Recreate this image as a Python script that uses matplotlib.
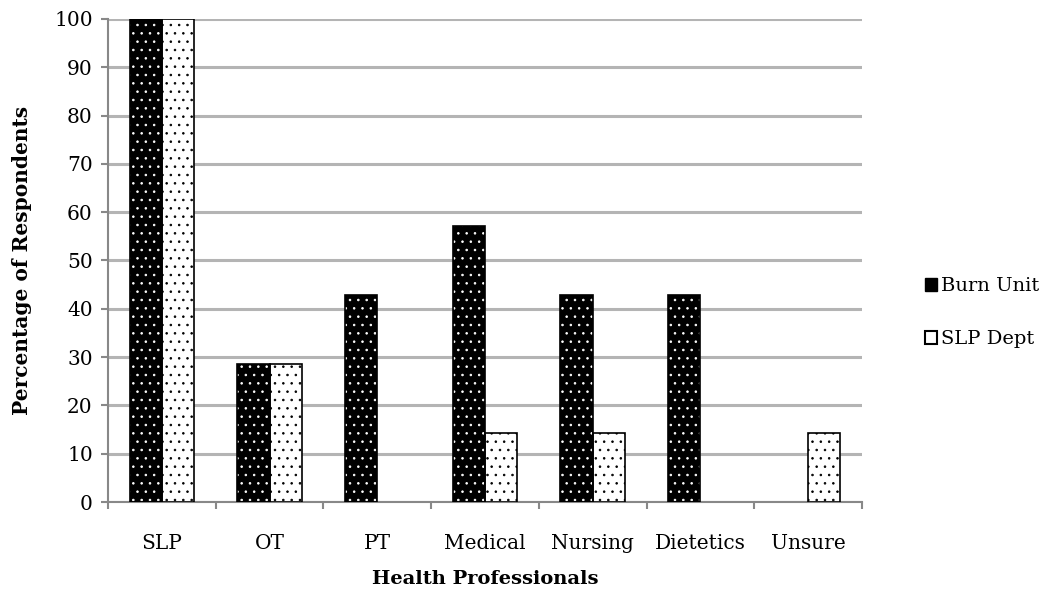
import numpy as np
import matplotlib.pyplot as plt
from matplotlib.patches import Patch

plt.rcParams['font.family'] = ['DejaVu Serif']
plt.rcParams['hatch.linewidth'] = 0.6

categories = ['SLP', 'OT', 'PT', 'Medical', 'Nursing', 'Dietetics', 'Unsure']
burn_unit = [100, 28.57, 42.86, 57.14, 42.86, 42.86, 0]
slp_dept = [100, 28.57, 0, 14.29, 14.29, 0, 14.29]

fig = plt.figure(figsize=(10.53, 5.9), dpi=100)
ax = fig.add_axes([0.1026, 0.149, 0.716, 0.819])

x = np.arange(len(categories))
w = 0.3


def edge_for(vals):
    # no outline for empty bars
    return ['black' if v > 0 else 'none' for v in vals]


# hatch layer (hatch colour comes from edgecolor), then outline on top
ax.bar(x - w / 2, burn_unit, w, color='black', edgecolor='white', hatch='..', linewidth=0, zorder=3)
ax.bar(x - w / 2, burn_unit, w, fill=False, edgecolor=edge_for(burn_unit), linewidth=1.2, zorder=4)
ax.bar(x + w / 2, slp_dept, w, color='white', edgecolor='black', hatch='..', linewidth=0, zorder=3)
ax.bar(x + w / 2, slp_dept, w, fill=False, edgecolor=edge_for(slp_dept), linewidth=1.2, zorder=4)

ax.set_xlim(-0.5, len(categories) - 0.5)
ax.set_ylim(0, 100)
ax.set_yticks(range(0, 101, 10))
ax.set_xticks(x)
ax.set_xticklabels(categories, fontsize=14.5)
ax.set_xticks(np.arange(-0.5, len(categories)), minor=True)
ax.tick_params(axis='x', which='major', length=0, pad=23)
ax.tick_params(axis='x', which='minor', length=5, color='#888888', width=1.5)
ax.tick_params(axis='y', labelsize=14.5, length=5, color='#888888', width=1.5, pad=6)

ax.grid(axis='y', color='#b4b4b4', linewidth=2.2, zorder=0)
ax.set_axisbelow(True)
for s in ['top', 'right']:
    ax.spines[s].set_visible(False)
for s in ['left', 'bottom']:
    ax.spines[s].set_color('#888888')
    ax.spines[s].set_linewidth(1.5)

ax.set_xlabel('Health Professionals', fontsize=14, fontweight='bold', labelpad=12)
ax.set_ylabel('Percentage of Respondents', fontsize=14.5, fontweight='bold', labelpad=16)

handles = [Patch(facecolor='black', edgecolor='black', label='Burn Unit'),
           Patch(facecolor='white', edgecolor='black', linewidth=1.5, label='SLP Dept')]
fig.legend(handles=handles, loc='center left', bbox_to_anchor=(0.862, 0.47),
           frameon=False, fontsize=14, handlelength=0.6, handleheight=0.6,
           handletextpad=0.2, labelspacing=1.8)

fig.savefig('out.png', dpi=100)
